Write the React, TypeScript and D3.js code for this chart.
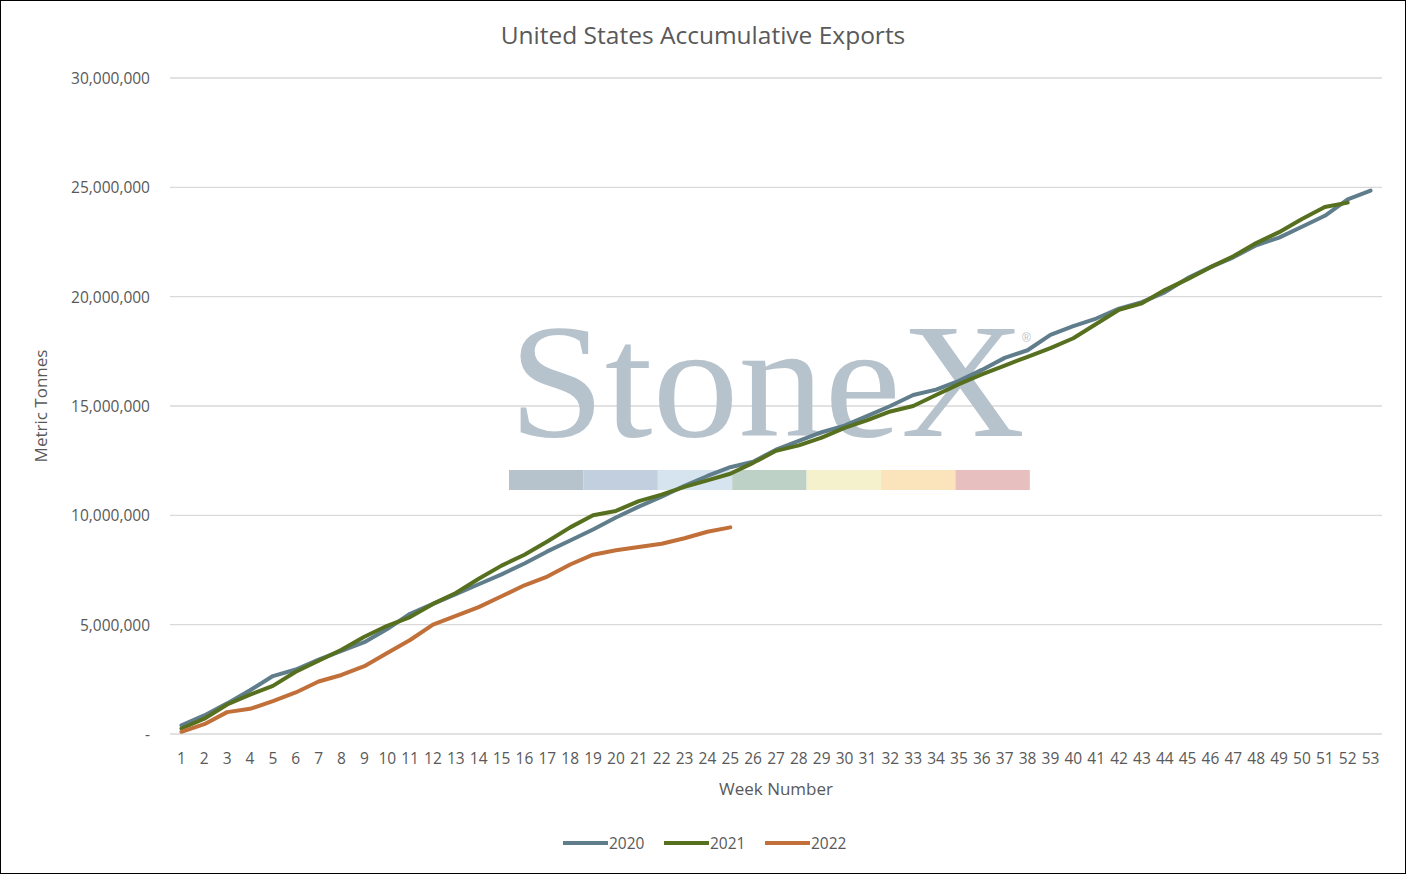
import React from 'react';
import * as d3 from 'd3';

const weeks = d3.range(1, 54);
const s2020 = [0.4, 0.85, 1.4, 2.0, 2.65, 2.95, 3.4, 3.8, 4.2, 4.8, 5.5, 5.95, 6.4, 6.85, 7.3, 7.8, 8.35, 8.85, 9.35, 9.9, 10.4, 10.85, 11.35, 11.8, 12.2, 12.45, 13.0, 13.4, 13.8, 14.1, 14.55, 15.0, 15.5, 15.75, 16.15, 16.65, 17.2, 17.55, 18.25, 18.65, 19.0, 19.45, 19.75, 20.2, 20.85, 21.35, 21.8, 22.35, 22.7, 23.2, 23.7, 24.45, 24.85];
const s2021 = [0.25, 0.7, 1.35, 1.8, 2.2, 2.85, 3.35, 3.85, 4.45, 4.95, 5.35, 5.95, 6.45, 7.1, 7.7, 8.2, 8.8, 9.45, 10.0, 10.2, 10.65, 10.95, 11.3, 11.6, 11.9, 12.4, 12.95, 13.2, 13.55, 14.0, 14.35, 14.75, 15.0, 15.5, 16.0, 16.45, 16.85, 17.25, 17.65, 18.1, 18.75, 19.4, 19.7, 20.3, 20.8, 21.35, 21.85, 22.45, 22.95, 23.55, 24.1, 24.3];
const s2022 = [0.1, 0.45, 1.0, 1.15, 1.5, 1.9, 2.4, 2.7, 3.1, 3.7, 4.3, 5.0, 5.4, 5.8, 6.3, 6.8, 7.2, 7.75, 8.2, 8.4, 8.55, 8.7, 8.95, 9.25, 9.45];
const yTicks = [0, 5, 10, 15, 20, 25, 30];
const series = [
  { name: '2020', values: s2020, color: '#607d8b' },
  { name: '2021', values: s2021, color: '#56701f' },
  { name: '2022', values: s2022, color: '#c07038' },
];
const logoColors = ['#b7c3cc', '#c1cfdf', '#d6e4f0', '#bdd1c6', '#f4f1cc', '#fbe3bb', '#e8bfbf'];

const W = 1406, H = 875;
const L = 170, R = 1382, T = 78, B = 734;

export default function App() {
  const x = d3.scaleBand<number>().domain(weeks).range([L, R]);
  const y = d3.scaleLinear().domain([0, 30]).range([B, T]);
  const fmt = (v: number) => (v === 0 ? '-' : d3.format(',')(v * 1e6));
  const line = d3.line<number>()
    .x((_, i) => x(weeks[i])! + x.bandwidth() / 2)
    .y(d => y(d));
  const font = '"Segoe UI", "Open Sans", sans-serif';
  return (
    <svg width={W} height={H} style={{ position: 'absolute', left: 0, top: 0, fontFamily: font }}>
      <rect x={0.5} y={0.5} width={W - 1} height={H - 2} fill="#fff" stroke="#000" />
      <text x={W / 2} y={44} textAnchor="middle" fontSize={24.5} fill="#595959">United States Accumulative Exports</text>
      {yTicks.map(t => (
        <g key={t}>
          <line x1={L} x2={R} y1={y(t)} y2={y(t)} stroke="#d9d9d9" strokeWidth={1.3} />
          <text x={150} y={y(t) + 6} textAnchor="end" fontSize={15.5} fill="#595959">{fmt(t)}</text>
        </g>
      ))}
      {/* watermark */}
      <g>
        <text x={509} y={436} fontSize={163} textLength={516} lengthAdjust="spacingAndGlyphs" fontFamily='"Liberation Serif", "DejaVu Serif", serif' fill="#b7c3cc">StoneX</text>
        <text x={1022} y={342} fontSize={12} fontFamily="sans-serif" fill="#b7c3cc">®</text>
        {logoColors.map((c, i) => (
          <rect key={c} x={509 + i * 74.4} y={470} width={74.4} height={20} fill={c} />
        ))}
      </g>
      {weeks.map(w => (
        <text key={w} x={x(w)! + x.bandwidth() / 2} y={764} textAnchor="middle" fontSize={15.5} fill="#595959">{w}</text>
      ))}
      <text x={(L + R) / 2} y={795} textAnchor="middle" fontSize={17} fill="#595959">Week Number</text>
      <text transform={`translate(47,406) rotate(-90)`} textAnchor="middle" fontSize={17} fill="#595959">Metric Tonnes</text>
      {series.map(s => (
        <path key={s.name} d={line(s.values)!} fill="none" stroke={s.color} strokeWidth={4} strokeLinejoin="round" strokeLinecap="round" />
      ))}
      {series.map((s, i) => (
        <g key={s.name} transform={`translate(${563 + i * 101},843)`}>
          <line x1={0} x2={45} y1={0} y2={0} stroke={s.color} strokeWidth={4} />
          <text x={46} y={6} fontSize={15.5} fill="#595959">{s.name}</text>
        </g>
      ))}
    </svg>
  );
}
